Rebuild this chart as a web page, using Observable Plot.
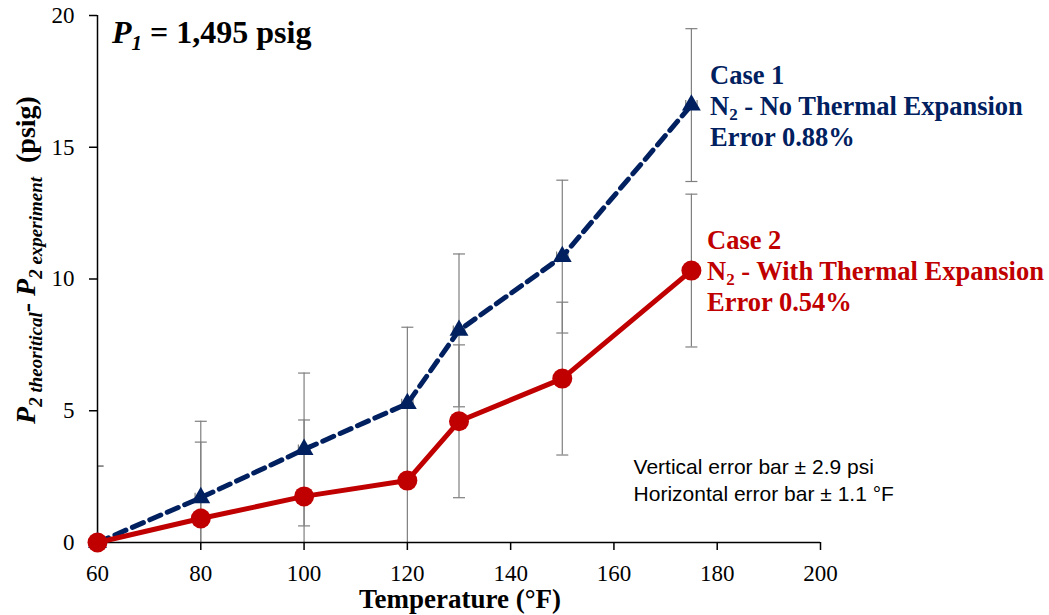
<!DOCTYPE html>
<html><head><meta charset="utf-8">
<script src="https://cdn.jsdelivr.net/npm/d3@7"></script>
<script src="https://cdn.jsdelivr.net/npm/@observablehq/plot@0.6"></script>
<style>
body{margin:0;background:#fff}
</style>
</head><body><div id="chart"></div>
<script>
const temps = [60, 80, 100, 120, 130, 150, 175];
const case1 = [0, 1.7, 3.53, 5.27, 8.05, 10.85, 16.6];
const case2 = [0, 0.91, 1.75, 2.35, 4.6, 6.22, 10.32];
const yErr = 2.9;
const xErr = 1.1;
const xTicks = [60, 80, 100, 120, 140, 160, 180, 200];
const yTicks = [0, 5, 10, 15, 20];
const noteLines = ["Vertical error bar ± 2.9 psi", "Horizontal error bar ± 1.1 °F"];

const navy = "#002060", red = "#C00000", grey = "#7f7f7f";
const rows = temps.flatMap((t, i) => [
  {t, v: case1[i], s: "Case 1"},
  {t, v: case2[i], s: "Case 2"}
]);
const hLine = {draw(c, size){ const w = 6; c.moveTo(-w, 0); c.lineTo(w, 0); }};
const vLine = {draw(c, size){ const h = 5; c.moveTo(0, -h); c.lineTo(0, h); }};
const c1 = rows.filter(d => d.s === "Case 1");
const c2 = rows.filter(d => d.s === "Case 2");

const errMarks = (data) => [
  Plot.ruleX(data, {x: "t", y1: d => d.v - yErr, y2: d => d.v + yErr, stroke: grey, strokeWidth: 1.2, clip: true}),
  Plot.dot(data, {x: "t", y: d => d.v + yErr, symbol: hLine, r: 6, stroke: grey, strokeWidth: 1.2, fill: "none", clip: true}),
  Plot.dot(data, {x: "t", y: d => d.v - yErr, symbol: hLine, r: 6, stroke: grey, strokeWidth: 1.2, fill: "none", clip: true}),
  Plot.ruleY(data, {y: "v", x1: d => d.t - xErr, x2: d => d.t + xErr, stroke: grey, strokeWidth: 1.2}),
  Plot.dot(data, {x: d => d.t - xErr, y: "v", symbol: vLine, r: 5, stroke: grey, strokeWidth: 1.2, fill: "none"}),
  Plot.dot(data, {x: d => d.t + xErr, y: "v", symbol: vLine, r: 5, stroke: grey, strokeWidth: 1.2, fill: "none"})
];

const plot = Plot.plot({
  width: 1049, height: 615,
  marginLeft: 97, marginRight: 229, marginTop: 15, marginBottom: 73,
  style: {fontFamily: "Liberation Serif", fontSize: "23px", color: "#000", background: "#fff"},
  x: {domain: [60, 200], ticks: xTicks, label: null},
  y: {domain: [0, 20], ticks: yTicks, label: null},
  marks: [
    ...errMarks(c1),
    ...errMarks(c2),
    Plot.axisX({ticks: xTicks, tickSize: 8, tickPadding: 14, strokeWidth: 1.5, fontSize: 23, label: null}),
    Plot.axisY({ticks: yTicks, tickSize: 8, tickPadding: 15, strokeWidth: 1.5, fontSize: 23, label: null}),
    Plot.ruleY([0], {stroke: "#000", strokeWidth: 1.5}),
    Plot.ruleX([60], {stroke: "#000", strokeWidth: 1.5}),
    Plot.line(c1, {x: "t", y: "v", stroke: navy, strokeWidth: 5, strokeDasharray: "12,7"}),
    Plot.line(c2, {x: "t", y: "v", stroke: red, strokeWidth: 5}),
    Plot.dot(c1, {x: "t", y: "v", symbol: "triangle", r: 7, fill: navy}),
    Plot.dot(c2, {x: "t", y: "v", symbol: "circle", r: 10, fill: red}),
    Plot.text(noteLines, {
      x: 163.8, y: (d, i) => [2.85, 1.82][i], text: d => d, textAnchor: "start",
      fontFamily: "Liberation Sans", fontSize: 21, fill: "#000"
    })
  ]
});
document.getElementById("chart").appendChild(plot);

const svg = d3.select(plot);
// Title P1
const t = svg.append("text").attr("x", 112).attr("y", 43).attr("text-anchor", "start")
  .attr("font-family", "Liberation Serif").attr("font-size", 32).attr("font-weight", "bold");
t.append("tspan").attr("font-style", "italic").text("P");
t.append("tspan").attr("font-style", "italic").attr("font-size", 21).attr("dy", 7).text("1");
t.append("tspan").attr("dy", -7).text(" = 1,495 psig");

// Annotations
function anno(x, y, color, lines) {
  const g = svg.append("g").attr("font-family", "Liberation Serif").attr("font-size", 26.5)
    .attr("font-weight", "bold").attr("fill", color).attr("text-anchor", "start");
  g.append("text").attr("x", x).attr("y", y).text(lines[0]);
  const l2 = g.append("text").attr("x", x).attr("y", y + 31);
  l2.append("tspan").text("N");
  l2.append("tspan").attr("font-size", 17).attr("dy", 5).text("2");
  l2.append("tspan").attr("dy", -5).text(lines[1]);
  g.append("text").attr("x", x).attr("y", y + 62).text(lines[2]);
}
anno(710, 84, navy, ["Case 1", " - No Thermal Expansion", "Error 0.88%"]);
anno(707, 249, red, ["Case 2", " - With Thermal Expansion", "Error 0.54%"]);

// X label
svg.append("text").attr("x", 460).attr("y", 608).attr("text-anchor", "middle")
  .attr("font-family", "Liberation Serif").attr("font-size", 27).attr("font-weight", "bold")
  .text("Temperature (°F)");

// Y label
const yl = svg.append("text").attr("transform", "translate(35,260) rotate(-90)")
  .attr("text-anchor", "middle").attr("font-family", "Liberation Serif").attr("font-size", 28).attr("font-weight", "bold");
yl.append("tspan").attr("font-style", "italic").text("P");
yl.append("tspan").attr("font-style", "italic").attr("font-size", 19).attr("dy", 7).text("2 theoritical");
yl.append("tspan").attr("dy", -7).text("- ");
yl.append("tspan").attr("font-style", "italic").text("P");
yl.append("tspan").attr("font-style", "italic").attr("font-size", 19).attr("dy", 7).text("2 experiment");
yl.append("tspan").attr("dy", -7).text("  (psig)");
</script></body></html>
